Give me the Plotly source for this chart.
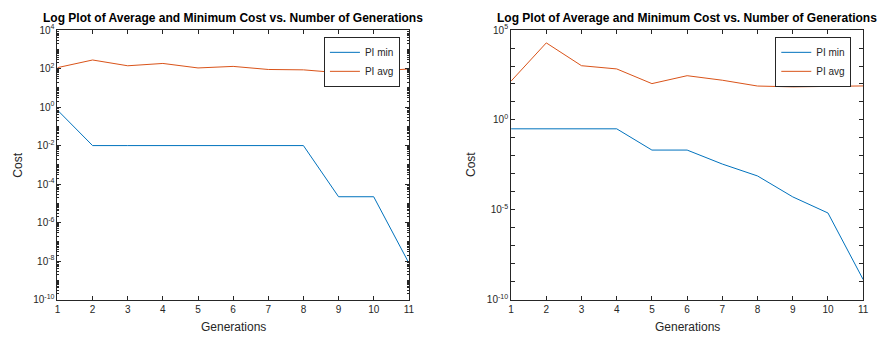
import plotly.graph_objects as go

generations = list(range(1, 12))
left_min = [0.7, 0.01, 0.01, 0.01, 0.01, 0.01, 0.01, 0.01, 2.2e-5, 2.2e-5, 8e-9]
left_avg = [112, 280, 140, 185, 108, 130, 90, 86, 61, 71, 96]
right_min = [0.32, 0.32, 0.32, 0.32, 0.021, 0.021, 0.0035, 7.6e-4, 5.2e-5, 6.6e-6, 1.3e-9]
right_avg = [145, 19400, 1040, 690, 105, 290, 162, 77, 69, 72, 78]

title_text = "Log Plot of Average and Minimum Cost vs. Number of Generations"
BLUE = "#0072BD"
ORANGE = "#D95319"
AX = "#262626"
FONT = "Liberation Sans, Arial, sans-serif"

W, H = 886, 346
def px_x(p):
    return p / W
def px_y(p):
    return 1 - p / H

fig = go.Figure()
fig.add_trace(go.Scatter(x=generations, y=left_min, mode="lines", name="PI min",
                         line=dict(color=BLUE, width=1), xaxis="x", yaxis="y", legend="legend"))
fig.add_trace(go.Scatter(x=generations, y=left_avg, mode="lines", name="PI avg",
                         line=dict(color=ORANGE, width=1), xaxis="x", yaxis="y", legend="legend"))
fig.add_trace(go.Scatter(x=generations, y=right_min, mode="lines", name="PI min",
                         line=dict(color=BLUE, width=1), xaxis="x2", yaxis="y2", legend="legend2"))
fig.add_trace(go.Scatter(x=generations, y=right_avg, mode="lines", name="PI avg",
                         line=dict(color=ORANGE, width=1), xaxis="x2", yaxis="y2", legend="legend2"))

ydom = [px_y(304), px_y(24)]
xdom1 = [px_x(55), px_x(410)]
xdom2 = [px_x(513.3), px_x(869)]

common_x = dict(range=[1, 11], tickvals=generations, ticks="inside", ticklen=4,
                tickcolor=AX, showline=True, linecolor=AX, linewidth=1, mirror="ticks",
                showgrid=False, zeroline=False,
                tickfont=dict(family=FONT, size=10, color=AX))

# left y axis: labels every 2 decades, minor ticks at all other positions
left_major = [10.0 ** d for d in range(-10, 5, 2)]
left_major_text = ["10<sup>%d</sup>" % d for d in range(-10, 5, 2)]
left_minor = []
for d in range(-10, 4):
    for k in range(1, 10):
        v = k * 10.0 ** d
        if k == 1 and d % 2 == 0:
            continue
        left_minor.append(v)

right_decades = list(range(-10, 6))
right_major = [10.0 ** d for d in right_decades if d % 5 == 0]
right_major_text = ["10<sup>%d</sup>" % d for d in right_decades if d % 5 == 0]
right_minor = [10.0 ** d for d in right_decades if d % 5 != 0]

legend_common = dict(xanchor="right", yanchor="top", bgcolor="white", bordercolor=AX,
                     borderwidth=1, font=dict(family=FONT, size=10, color=AX),
                     tracegroupgap=0, itemwidth=30)

fig.update_layout(
    width=W, height=H, margin=dict(l=0, r=0, t=0, b=0),
    paper_bgcolor="white", plot_bgcolor="white",
    font=dict(family=FONT, color=AX),
    xaxis=dict(domain=xdom1, anchor="y", **common_x),
    yaxis=dict(domain=ydom, anchor="x", type="log", range=[-10, 4],
               tickmode="array", tickvals=left_major, ticktext=left_major_text,
               ticks="inside", ticklen=4, tickcolor=AX, showline=True, linecolor=AX,
               linewidth=1, mirror="ticks", showgrid=False, zeroline=False,
               tickfont=dict(family=FONT, size=10, color=AX),
               minor=dict(tickmode="array", tickvals=left_minor, ticks="inside",
                          ticklen=2, tickcolor=AX, showgrid=False)),
    xaxis2=dict(domain=xdom2, anchor="y2", **common_x),
    yaxis2=dict(domain=ydom, anchor="x2", type="log", range=[-10, 5],
                tickmode="array", tickvals=right_major, ticktext=right_major_text,
                ticks="inside", ticklen=4, tickcolor=AX, showline=True, linecolor=AX,
                linewidth=1, mirror="ticks", showgrid=False, zeroline=False,
                tickfont=dict(family=FONT, size=10, color=AX),
                minor=dict(tickmode="array", tickvals=right_minor, ticks="inside",
                           ticklen=4, tickcolor=AX, showgrid=False)),
    legend=dict(x=px_x(401), y=px_y(31), **legend_common),
    legend2=dict(x=px_x(857), y=px_y(31), **legend_common),
    showlegend=True,
)

annotations = []
for cx, ylab_x in [((55 + 410) / 2, 15), ((513.3 + 869) / 2, 473)]:
    annotations.append(dict(text="<b>%s</b>" % title_text, x=px_x(cx), y=px_y(11.5),
                            xref="paper", yref="paper", showarrow=False,
                            xanchor="center", yanchor="middle",
                            font=dict(family=FONT, size=12, color="black")))
    annotations.append(dict(text="Generations", x=px_x(cx), y=px_y(333),
                            xref="paper", yref="paper", showarrow=False,
                            xanchor="center", yanchor="middle",
                            font=dict(family=FONT, size=12, color=AX)))
    annotations.append(dict(text="Cost", x=px_x(ylab_x), y=px_y(164),
                            xref="paper", yref="paper", showarrow=False, textangle=-90,
                            xanchor="center", yanchor="middle",
                            font=dict(family=FONT, size=12, color=AX)))
fig.update_layout(annotations=annotations)

fig.write_html("out.html")
